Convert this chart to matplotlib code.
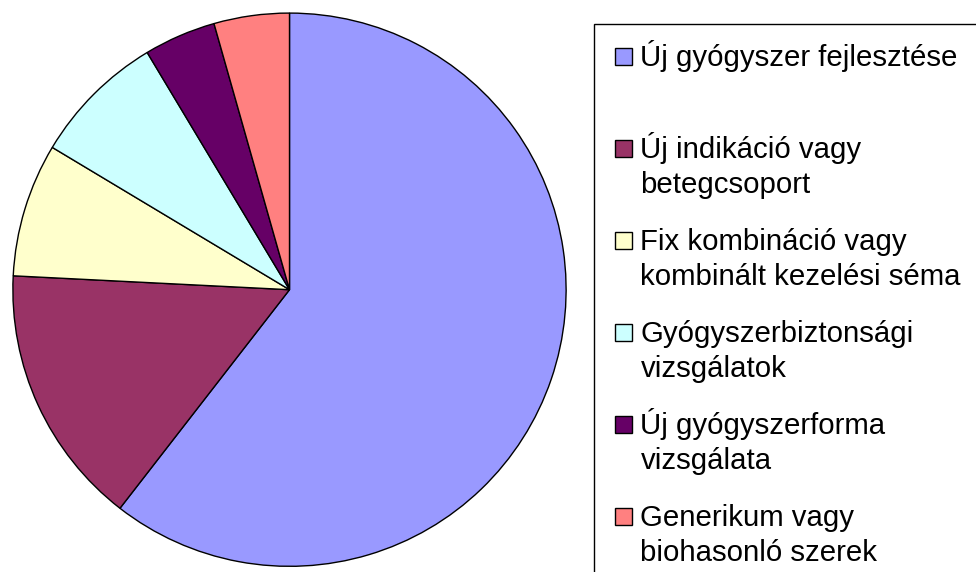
import matplotlib
matplotlib.use("Agg")
import matplotlib.pyplot as plt
from matplotlib.patches import Rectangle
import numpy as np

plt.rcParams['font.family'] = ['Liberation Sans', 'DejaVu Sans']

categories = [
    "Új gyógyszer fejlesztése",
    "Új indikáció vagy\nbetegcsoport",
    "Fix kombináció vagy\nkombinált kezelési séma",
    "Gyógyszerbiztonsági\nvizsgálatok",
    "Új gyógyszerforma\nvizsgálata",
    "Generikum vagy\nbiohasonló szerek",
]
values = [60.5, 15.3, 7.8, 7.8, 4.2, 4.4]
colors = ["#9999FF", "#993366", "#FFFFCC", "#CCFFFF", "#660066", "#FF8080"]

W, H = 976, 572
fig = plt.figure(figsize=(W / 100, H / 100), dpi=100)

# pie geometry in pixels
cx, cy, r = 289.5, 289.7, 278.0
ax = fig.add_axes([(cx - r) / W, (H - cy - r) / H, 2 * r / W, 2 * r / H])
ax.pie(values, colors=colors, startangle=90, counterclock=False,
       wedgeprops=dict(edgecolor="black", linewidth=1.0), radius=1.0)
ax.set_xlim(-1.005, 1.005)
ax.set_ylim(-1.005, 1.005)
ax.set_aspect("equal")
ax.axis("off")

# legend overlay in pixel coordinates
lax = fig.add_axes([0, 0, 1, 1], zorder=5)
lax.set_xlim(0, W)
lax.set_ylim(H, 0)
lax.axis("off")
lax.patch.set_alpha(0)

lax.add_patch(Rectangle((593.5, 24), 500, 600, facecolor="white",
                        edgecolor="black", linewidth=1.0, clip_on=False))

baselines = np.linspace(66.5, 526.5, len(categories))
fs = 21.2
line_h = 34.5
for lab, col, yb in zip(categories, colors, baselines):
    lax.add_patch(Rectangle((615, yb - 18.5), 17, 17, facecolor=col,
                            edgecolor="black", linewidth=1.0))
    for i, line in enumerate(lab.split("\n")):
        lax.text(640.5, yb + i * line_h, line, fontsize=fs, va="baseline",
                 ha="left", color="black")

fig.savefig("out.png", dpi=100)
